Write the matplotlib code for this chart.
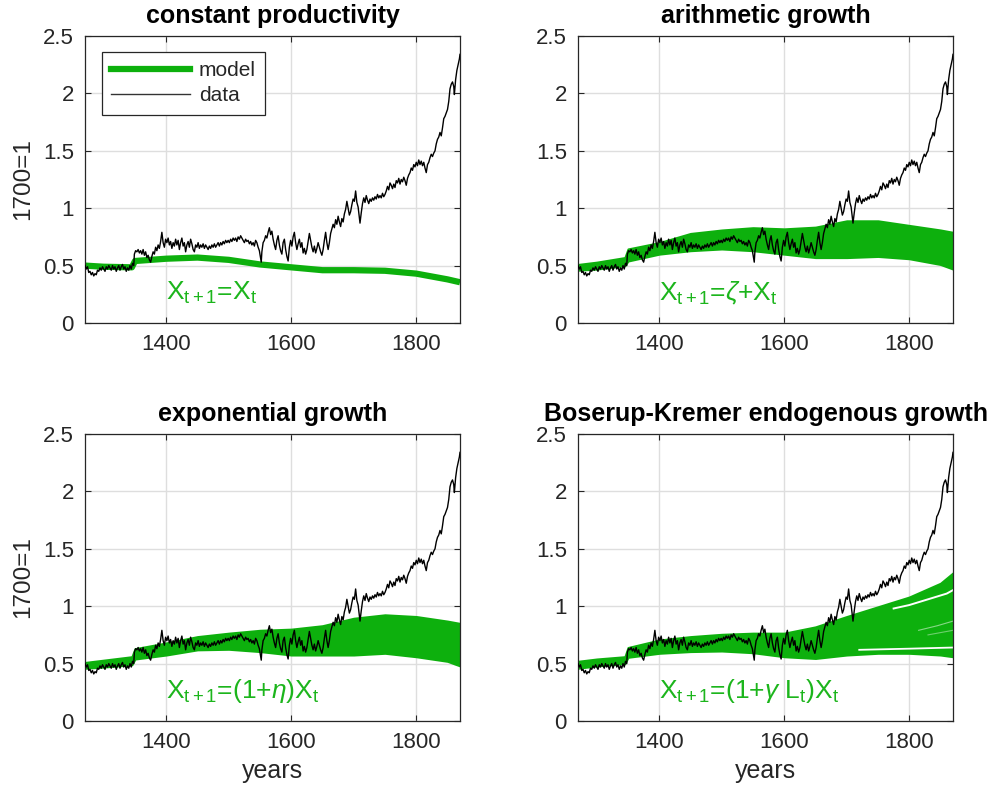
import matplotlib
matplotlib.use('Agg')
import matplotlib.pyplot as plt
from matplotlib.lines import Line2D

plt.rcParams['font.family'] = ['Liberation Sans', 'DejaVu Sans']
plt.rcParams['mathtext.fontset'] = 'custom'
plt.rcParams['mathtext.rm'] = 'Liberation Sans'
plt.rcParams['mathtext.it'] = 'Liberation Sans:italic'
plt.rcParams['mathtext.bf'] = 'Liberation Sans:bold'

# ---------------- data (read / estimated from the picture) ----------------
data_years = [
    1270, 1272, 1274, 1276, 1278, 1280, 1282, 1284, 1286, 1288, 1290, 1292, 1294, 1296, 1298,
    1300, 1302, 1304, 1306, 1308, 1310, 1312, 1314, 1316, 1318, 1320, 1322, 1324, 1326, 1328,
    1330, 1332, 1334, 1336, 1338, 1340, 1342, 1344, 1346, 1348, 1349, 1351, 1353, 1355, 1357,
    1359, 1361, 1363, 1365, 1367, 1369, 1371, 1373, 1375, 1377, 1379, 1381, 1383, 1385, 1387,
    1389, 1391, 1393, 1395, 1397, 1399, 1401, 1403, 1405, 1407, 1409, 1411, 1413, 1415, 1417,
    1419, 1421, 1423, 1425, 1427, 1429, 1431, 1433, 1435, 1437, 1439, 1441, 1443, 1445, 1447,
    1449, 1451, 1453, 1455, 1457, 1459, 1461, 1463, 1465, 1467, 1469, 1471, 1473, 1475, 1477,
    1479, 1481, 1483, 1485, 1487, 1489, 1491, 1493, 1495, 1497, 1499, 1501, 1503, 1505, 1507,
    1509, 1511, 1513, 1515, 1517, 1519, 1521, 1523, 1525, 1527, 1529, 1531, 1533, 1535, 1537,
    1539, 1541, 1543, 1545, 1547, 1549, 1551, 1552, 1553, 1555, 1557, 1559, 1561, 1563, 1565,
    1567, 1569, 1571, 1573, 1575, 1577, 1579, 1581, 1583, 1585, 1587, 1589, 1591, 1593, 1595,
    1597, 1599, 1601, 1603, 1605, 1607, 1609, 1611, 1613, 1615, 1617, 1619, 1621, 1623, 1625,
    1627, 1629, 1631, 1633, 1635, 1637, 1639, 1641, 1643, 1645, 1647, 1649, 1651, 1653, 1655,
    1657, 1659, 1661, 1663, 1665, 1667, 1669, 1671, 1673, 1675, 1677, 1679, 1681, 1683, 1685,
    1687, 1689, 1691, 1693, 1695, 1697, 1699, 1701, 1703, 1705, 1707, 1709, 1710, 1712, 1714,
    1716, 1718, 1720, 1722, 1724, 1726, 1728, 1730, 1732, 1734, 1736, 1738, 1740, 1742, 1744,
    1746, 1748, 1750, 1752, 1754, 1756, 1758, 1760, 1762, 1764, 1766, 1768, 1770, 1772, 1774,
    1776, 1778, 1780, 1782, 1784, 1786, 1788, 1790, 1792, 1794, 1796, 1798, 1800, 1802, 1804,
    1806, 1808, 1810, 1812, 1814, 1816, 1818, 1820, 1822, 1824, 1826, 1828, 1830, 1832, 1834,
    1836, 1838, 1840, 1842, 1844, 1846, 1848, 1850, 1852, 1854, 1856, 1858, 1860, 1861, 1863,
    1865, 1867, 1869, 1870]
data_vals = [
    0.50, 0.47, 0.49, 0.44, 0.45, 0.42, 0.44, 0.41, 0.43, 0.42, 0.46, 0.45, 0.48, 0.46, 0.49,
    0.47, 0.45, 0.49, 0.47, 0.50, 0.48, 0.46, 0.50, 0.47, 0.49, 0.45, 0.48, 0.50, 0.46, 0.49,
    0.51, 0.47, 0.49, 0.45, 0.48, 0.46, 0.50, 0.47, 0.52, 0.50, 0.60, 0.63, 0.62, 0.64, 0.61,
    0.63, 0.60, 0.64, 0.59, 0.62, 0.57, 0.59, 0.55, 0.53, 0.58, 0.62, 0.60, 0.66, 0.63, 0.68,
    0.65, 0.71, 0.79, 0.70, 0.66, 0.73, 0.70, 0.74, 0.68, 0.71, 0.65, 0.70, 0.67, 0.73, 0.68,
    0.72, 0.64, 0.70, 0.74, 0.67, 0.70, 0.62, 0.68, 0.71, 0.66, 0.73, 0.69, 0.64, 0.62, 0.68,
    0.66, 0.70, 0.65, 0.68, 0.66, 0.69, 0.65, 0.68, 0.66, 0.64, 0.67, 0.65, 0.68, 0.66, 0.69,
    0.66, 0.68, 0.70, 0.67, 0.70, 0.68, 0.71, 0.69, 0.72, 0.70, 0.72, 0.70, 0.73, 0.71, 0.74,
    0.72, 0.74, 0.71, 0.75, 0.73, 0.76, 0.74, 0.72, 0.70, 0.73, 0.71, 0.72, 0.69, 0.71, 0.68,
    0.70, 0.67, 0.72, 0.70, 0.66, 0.63, 0.56, 0.53, 0.62, 0.70, 0.72, 0.76, 0.74, 0.79, 0.83,
    0.77, 0.80, 0.73, 0.68, 0.64, 0.72, 0.76, 0.68, 0.63, 0.60, 0.70, 0.73, 0.64, 0.58, 0.54,
    0.66, 0.72, 0.67, 0.75, 0.79, 0.70, 0.64, 0.69, 0.73, 0.66, 0.70, 0.61, 0.65, 0.60, 0.64,
    0.71, 0.78, 0.72, 0.66, 0.62, 0.67, 0.61, 0.65, 0.70, 0.66, 0.62, 0.59, 0.64, 0.72, 0.79,
    0.70, 0.64, 0.70, 0.78, 0.82, 0.86, 0.83, 0.90, 0.86, 0.93, 0.88, 0.84, 0.91, 0.88, 0.95,
    0.99, 1.06, 1.00, 0.94, 0.97, 1.03, 1.08, 1.06, 1.15, 1.05, 1.01, 0.92, 0.87, 0.96, 1.04,
    1.09, 1.05, 1.11, 1.07, 1.04, 1.08, 1.06, 1.09, 1.07, 1.10, 1.08, 1.12, 1.09, 1.11, 1.09,
    1.13, 1.10, 1.12, 1.15, 1.19, 1.16, 1.22, 1.20, 1.17, 1.21, 1.18, 1.24, 1.22, 1.26, 1.21,
    1.25, 1.23, 1.27, 1.24, 1.20, 1.26, 1.29, 1.31, 1.35, 1.33, 1.38, 1.36, 1.40, 1.37, 1.42,
    1.38, 1.41, 1.37, 1.40, 1.35, 1.31, 1.38, 1.40, 1.44, 1.47, 1.45, 1.48, 1.50, 1.56, 1.60,
    1.62, 1.66, 1.63, 1.70, 1.78, 1.80, 1.83, 1.86, 1.93, 2.04, 2.08, 2.10, 2.06, 1.99, 2.12,
    2.20, 2.25, 2.30, 2.34]

model_years = [1270, 1300, 1345, 1350, 1400, 1450, 1500, 1550, 1600, 1650, 1700,
               1750, 1800, 1850, 1870]
# constant productivity (single path)
const_vals = [0.50, 0.49, 0.485, 0.54, 0.56, 0.57, 0.55, 0.51, 0.485, 0.46, 0.46,
              0.455, 0.43, 0.38, 0.355]
# arithmetic growth band
arith_low = [0.46, 0.47, 0.50, 0.54, 0.60, 0.63, 0.645, 0.63, 0.60, 0.57, 0.57,
             0.58, 0.56, 0.51, 0.47]
arith_high = [0.51, 0.53, 0.57, 0.645, 0.70, 0.78, 0.81, 0.83, 0.82, 0.835, 0.89,
              0.89, 0.85, 0.81, 0.79]
# exponential growth band
expo_low = [0.46, 0.47, 0.49, 0.54, 0.575, 0.62, 0.625, 0.605, 0.575, 0.575, 0.575,
            0.59, 0.56, 0.52, 0.48]
expo_high = [0.51, 0.53, 0.56, 0.63, 0.68, 0.735, 0.765, 0.79, 0.80, 0.83, 0.895,
             0.925, 0.91, 0.87, 0.85]
# Boserup-Kremer band
bk_low = [0.46, 0.48, 0.50, 0.555, 0.59, 0.605, 0.61, 0.595, 0.56, 0.545, 0.575,
          0.59, 0.59, 0.575, 0.56]
bk_high = [0.52, 0.54, 0.56, 0.64, 0.705, 0.735, 0.755, 0.765, 0.765, 0.82, 0.91,
           0.995, 1.08, 1.20, 1.29]
# gaps between individual Boserup-Kremer paths
bk_gap1_years = [1775, 1800, 1830, 1860, 1870]
bk_gap1_vals = [0.98, 1.01, 1.06, 1.11, 1.14]
bk_gap2_years = [1720, 1800, 1870]
bk_gap2_vals = [0.62, 0.63, 0.64]
bk_gap3_years = [1815, 1845, 1870]
bk_gap3_vals = [0.79, 0.83, 0.87]
bk_gap4_years = [1830, 1870]
bk_gap4_vals = [0.75, 0.79]

titles = ['constant productivity', 'arithmetic growth', 'exponential growth',
          'Boserup-Kremer endogenous growth']
formulas = [r'X$_{\mathrm{t+1}}$=X$_{\mathrm{t}}$',
            r'X$_{\mathrm{t+1}}$=$\zeta$+X$_{\mathrm{t}}$',
            r'X$_{\mathrm{t+1}}$=(1+$\eta$)X$_{\mathrm{t}}$',
            r'X$_{\mathrm{t+1}}$=(1+$\gamma$ L$_{\mathrm{t}}$)X$_{\mathrm{t}}$']
xticks = [1400, 1600, 1800]
yticks = [0, 0.5, 1, 1.5, 2, 2.5]
ytick_labels = ['0', '0.5', '1', '1.5', '2', '2.5']

GREEN = '#0db00d'
TEXTGREEN = '#1cb51c'
AX = '#262626'

W, H = 1001, 793
fig = plt.figure(figsize=(W / 100, H / 100), dpi=100)

lefts = [85, 578]
tops = [36, 434]
aw, ah = 375, 287
axes = []
for r in range(2):
    for c in range(2):
        ax = fig.add_axes([lefts[c] / W, 1 - (tops[r] + ah) / H, aw / W, ah / H])
        axes.append(ax)

for i, ax in enumerate(axes):
    ax.set_xlim(1270, 1870)
    ax.set_ylim(0, 2.5)
    ax.set_axisbelow(True)
    ax.grid(True, color='#dedede', lw=1.0)
    ax.set_xticks(xticks)
    ax.set_yticks(yticks)
    ax.set_yticklabels(ytick_labels)
    ax.tick_params(direction='in', length=4, width=0.8, colors=AX, labelsize=16,
                   top=True, right=True, pad=8)
    for s in ax.spines.values():
        s.set_color(AX)
        s.set_linewidth(0.9)
    ax.set_title(titles[i], fontsize=18, fontweight='bold', color='black', pad=9)

    if i == 0:
        ax.plot(model_years, const_vals, color=GREEN, lw=4.5, solid_capstyle='butt')
    elif i == 1:
        ax.fill_between(model_years, arith_low, arith_high, color=GREEN, lw=1.5,
                        edgecolor=GREEN)
    elif i == 2:
        ax.fill_between(model_years, expo_low, expo_high, color=GREEN, lw=1.5,
                        edgecolor=GREEN)
    else:
        ax.fill_between(model_years, bk_low, bk_high, color=GREEN, lw=1.5,
                        edgecolor=GREEN)
        ax.plot(bk_gap1_years, bk_gap1_vals, color='white', lw=1.4)
        ax.plot(bk_gap2_years, bk_gap2_vals, color='white', lw=1.3)
        ax.plot(bk_gap3_years, bk_gap3_vals, color='white', lw=0.8, alpha=0.5)
        ax.plot(bk_gap4_years, bk_gap4_vals, color='white', lw=0.8, alpha=0.4)

    ax.plot(data_years, data_vals, color='black', lw=1.0, zorder=5)
    ax.text(1400, 0.2, formulas[i], color=TEXTGREEN, fontsize=19, ha='left',
            va='baseline', zorder=6)

    if i % 2 == 0:
        ax.set_ylabel('1700=1', fontsize=17.5, color=AX, labelpad=6)
    if i >= 2:
        ax.set_xlabel('years', fontsize=18, color=AX, labelpad=4)

legend_handles = [Line2D([], [], color=GREEN, lw=4.5),
                  Line2D([], [], color='#333333', lw=1.0)]
leg = axes[0].legend(legend_handles, ['model', 'data'], loc='upper left',
                     bbox_to_anchor=(0.045, 0.945), borderaxespad=0, fontsize=15,
                     handlelength=3.8, fancybox=False, framealpha=1,
                     edgecolor=AX, labelspacing=0.3, handletextpad=0.4,
                     borderpad=0.45)
leg.get_frame().set_linewidth(0.9)
for t in leg.get_texts():
    t.set_color(AX)

fig.savefig('out.png', dpi=100)
